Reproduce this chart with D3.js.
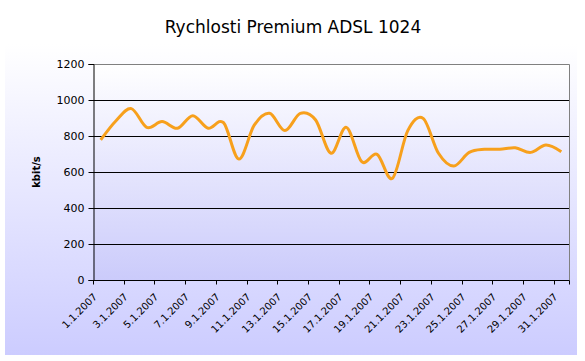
<!DOCTYPE html>
<html><head><meta charset="utf-8">
<script src="https://cdn.jsdelivr.net/npm/d3@7"></script>
<style>body{margin:0;background:#fff}svg{display:block}text{font-family:"DejaVu Sans",Verdana,sans-serif}</style>
</head><body><svg id="c" width="585" height="361"></svg>
<script>
const title = "Rychlosti Premium ADSL 1024";
const yLabel = "kbit/s";
const days = d3.range(1, 32).map(d => d + ".1.2007");
const speeds = [778, 885, 952, 848, 880, 843, 913, 843, 874, 672,
                860, 926, 830, 926, 889, 704, 848, 657, 698, 565,
                830, 898, 704, 633, 709, 726, 726, 735, 709, 750, 713];
const yTicks = [0, 200, 400, 600, 800, 1000, 1200];

const svg = d3.select("#c");
const W = 585, H = 361;
const L = 93, R = 569, T = 64, B = 280;

const defs = svg.append("defs");
const g1 = defs.append("linearGradient").attr("id","bg").attr("x1",0).attr("y1",0).attr("x2",0).attr("y2",1);
g1.append("stop").attr("offset","0%").attr("stop-color","#ffffff");
g1.append("stop").attr("offset","100%").attr("stop-color","#ccccff");
const g2 = defs.append("linearGradient").attr("id","pa").attr("x1",0).attr("y1",0).attr("x2",0).attr("y2",1);
g2.append("stop").attr("offset","0%").attr("stop-color","#ffffff");
g2.append("stop").attr("offset","100%").attr("stop-color","#cbcbfb");

svg.append("rect").attr("x",5).attr("y",44).attr("width",572).attr("height",311).attr("fill","url(#bg)");
svg.append("rect").attr("x",L).attr("y",T).attr("width",R-L).attr("height",B-T).attr("fill","url(#pa)");

svg.append("text").attr("x",293).attr("y",33).attr("text-anchor","middle")
  .attr("font-size",17).attr("fill","#000").text(title);

const x = d3.scaleBand().domain(days).range([L, R]).paddingInner(0).paddingOuter(0);
const y = d3.scaleLinear().domain([0, 1200]).range([B, T]);

// gridlines
svg.append("g").selectAll("line").data(yTicks.filter(t => t > 0 && t < 1200)).join("line")
  .attr("x1",L).attr("x2",R).attr("y1",d=>Math.round(y(d))+0.5).attr("y2",d=>Math.round(y(d))+0.5)
  .attr("stroke","#000").attr("stroke-width",1);
// border top/right gray
svg.append("path").attr("d",`M${L},${T+0.5}H${R+0.5}V${B}`).attr("fill","none").attr("stroke","#808080");

// y axis
const ya = svg.append("g").attr("transform",`translate(${L+0.5},0)`)
  .call(d3.axisLeft(y).tickValues(yTicks).tickSize(5).tickPadding(4).tickFormat(d3.format("d")));
ya.select(".domain").attr("stroke","#000");
ya.selectAll(".tick line").attr("stroke","#000");
ya.selectAll("text").attr("font-size",11).attr("font-family","DejaVu Sans").attr("fill","#000");

// x axis
const xa = svg.append("g").attr("transform",`translate(0,${B+0.5})`);
xa.append("line").attr("x1",L).attr("x2",R+0.5).attr("stroke","#000");
const bounds = d3.range(0, days.length, 2).map(i => x(days[i]));
bounds.push(R);
xa.selectAll(".tk").data(bounds).join("line").attr("class","tk")
  .attr("x1",d=>Math.round(d)+0.5).attr("x2",d=>Math.round(d)+0.5).attr("y1",0).attr("y2",4).attr("stroke","#000");
xa.selectAll(".lb").data(days.filter((d,i)=>i%2===0)).join("text").attr("class","lb")
  .attr("text-anchor","end").attr("font-size",10).attr("fill","#000")
  .attr("transform", d => `translate(${x(d)+x.bandwidth()/2-3},${17}) rotate(-45)`)
  .text(d => d);

// y label
svg.append("text").attr("transform",`translate(40,172) rotate(-90)`).attr("text-anchor","middle")
  .attr("font-size",10).attr("font-weight","bold").attr("fill","#000").text(yLabel);

// line
const line = d3.line().x((d,i)=>x(days[i])+x.bandwidth()/2).y(d=>y(d)).curve(d3.curveCatmullRom.alpha(0));
svg.append("path").datum(speeds).attr("d",line).attr("fill","none")
  .attr("stroke","#f7a01c").attr("stroke-width",3).attr("stroke-linejoin","round");
</script></body></html>
